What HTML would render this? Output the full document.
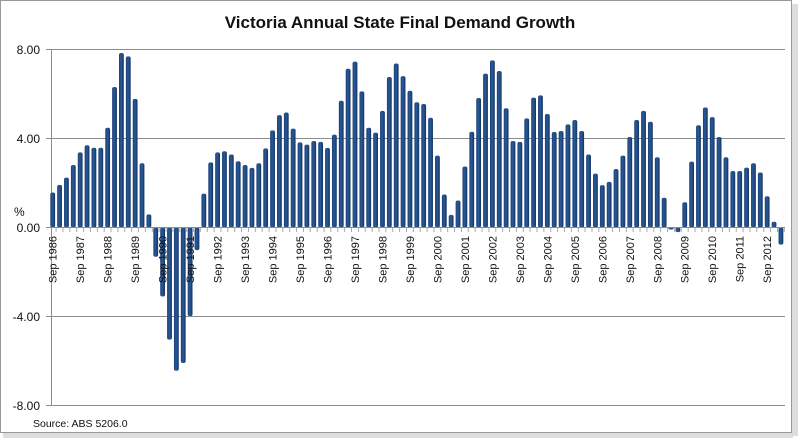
<!DOCTYPE html>
<html><head><meta charset="utf-8"><style>
html,body{margin:0;padding:0;background:#fff;}
svg{display:block;font-family:"Liberation Sans",sans-serif;}
</style></head><body>
<svg id="c" width="800" height="438" viewBox="0 0 800 438" xmlns="http://www.w3.org/2000/svg">
<defs>
<linearGradient id="g" x1="0" x2="1" y1="0" y2="0">
<stop offset="0" stop-color="#1a3f72"/><stop offset="0.45" stop-color="#2a5a9a"/><stop offset="1" stop-color="#123260"/>
</linearGradient>
</defs>
<rect x="0" y="0" width="800" height="438" fill="#fff"/>
<rect x="3" y="433" width="790" height="5" fill="#ddd"/>
<rect x="792" y="4" width="6" height="432" fill="#ddd"/>
<rect x="0.5" y="0.5" width="791" height="432" fill="#fff" stroke="#999"/>
<text x="400" y="28" font-size="17" font-weight="bold" text-anchor="middle" fill="#111">Victoria Annual State Final Demand Growth</text>
<g stroke="#8c8c8c" stroke-width="1">
<line x1="51" x2="785" y1="49.5" y2="49.5"/>
<line x1="51" x2="785" y1="138.5" y2="138.5"/>
<line x1="51" x2="785" y1="316.5" y2="316.5"/>
<line x1="51" x2="785" y1="405.5" y2="405.5"/>
<line x1="51.5" x2="51.5" y1="49" y2="405"/>
<line x1="46" x2="51" y1="49.5" y2="49.5"/><line x1="46" x2="51" y1="138.5" y2="138.5"/><line x1="46" x2="51" y1="227.5" y2="227.5"/><line x1="46" x2="51" y1="316.5" y2="316.5"/><line x1="46" x2="51" y1="405.5" y2="405.5"/>
</g>
<g font-size="12" fill="#111" text-anchor="end">
<text x="40" y="54">8.00</text><text x="40" y="143">4.00</text><text x="40" y="232">0.00</text><text x="40" y="321">-4.00</text><text x="40" y="410">-8.00</text>
</g>
<text x="14" y="216" font-size="12" fill="#111">%</text>
<text x="33" y="427" font-size="10.5" fill="#111">Source: ABS 5206.0</text>
<g id="bars"></g>
<line x1="51" x2="785" y1="227.5" y2="227.5" stroke="#8c8c8c"/>
<g id="ticks" stroke="#aaa"></g>
<g font-size="11" fill="#111" text-anchor="end">
<text transform="translate(56.7,236) rotate(-90)">Sep 1986</text>
<text transform="translate(84.2,236) rotate(-90)">Sep 1987</text>
<text transform="translate(111.7,236) rotate(-90)">Sep 1988</text>
<text transform="translate(139.1,236) rotate(-90)">Sep 1989</text>
<text transform="translate(166.6,236) rotate(-90)">Sep 1990</text>
<text transform="translate(194.1,236) rotate(-90)">Sep 1991</text>
<text transform="translate(221.6,236) rotate(-90)">Sep 1992</text>
<text transform="translate(249.1,236) rotate(-90)">Sep 1993</text>
<text transform="translate(276.5,236) rotate(-90)">Sep 1994</text>
<text transform="translate(304.0,236) rotate(-90)">Sep 1995</text>
<text transform="translate(331.5,236) rotate(-90)">Sep 1996</text>
<text transform="translate(359.0,236) rotate(-90)">Sep 1997</text>
<text transform="translate(386.5,236) rotate(-90)">Sep 1998</text>
<text transform="translate(414.0,236) rotate(-90)">Sep 1999</text>
<text transform="translate(441.4,236) rotate(-90)">Sep 2000</text>
<text transform="translate(468.9,236) rotate(-90)">Sep 2001</text>
<text transform="translate(496.4,236) rotate(-90)">Sep 2002</text>
<text transform="translate(523.9,236) rotate(-90)">Sep 2003</text>
<text transform="translate(551.3,236) rotate(-90)">Sep 2004</text>
<text transform="translate(578.8,236) rotate(-90)">Sep 2005</text>
<text transform="translate(606.3,236) rotate(-90)">Sep 2006</text>
<text transform="translate(633.8,236) rotate(-90)">Sep 2007</text>
<text transform="translate(661.3,236) rotate(-90)">Sep 2008</text>
<text transform="translate(688.7,236) rotate(-90)">Sep 2009</text>
<text transform="translate(716.2,236) rotate(-90)">Sep 2010</text>
<text transform="translate(743.7,236) rotate(-90)">Sep 2011</text>
<text transform="translate(771.2,236) rotate(-90)">Sep 2012</text>
</g>
</svg>
<script>
var v=[1.58,1.92,2.25,2.82,3.39,3.71,3.6,3.6,4.5,6.34,7.87,7.72,5.8,2.9,0.59,-1.32,-3.11,-5.06,-6.46,-6.11,-4.0,-1.02,1.53,2.94,3.39,3.44,3.29,2.99,2.82,2.69,2.9,3.57,4.38,5.07,5.19,4.46,3.84,3.74,3.9,3.86,3.59,4.19,5.72,7.16,7.48,6.14,4.5,4.28,5.26,6.79,7.4,6.83,6.17,5.65,5.57,4.95,3.24,1.49,0.57,1.22,2.75,4.32,5.84,6.94,7.54,7.06,5.38,3.9,3.86,4.92,5.86,5.96,5.12,4.31,4.35,4.65,4.85,4.35,3.29,2.43,1.91,2.06,2.64,3.24,4.08,4.85,5.26,4.77,3.17,1.34,-0.06,-0.21,1.14,2.97,4.61,5.41,4.98,4.08,3.17,2.55,2.55,2.7,2.9,2.48,1.41,0.26,-0.77];
var ns="http://www.w3.org/2000/svg",b=document.getElementById("bars"),t=document.getElementById("ticks");
for(var i=0;i<v.length;i++){var x=52.7+6.87*i,h=Math.abs(v[i])*22.17;h=Math.max(h,2);
var y=v[i]>=0?227.5-h:227.5;var r=document.createElementNS(ns,"rect");
r.setAttribute("x",x-2.4);r.setAttribute("y",y);r.setAttribute("width",4.8);r.setAttribute("height",h);
r.setAttribute("rx",2);r.setAttribute("fill","url(#g)");b.appendChild(r);
var l=document.createElementNS(ns,"line");var tx=x+3.4;l.setAttribute("x1",tx);l.setAttribute("x2",tx);l.setAttribute("y1",228);l.setAttribute("y2",232);t.appendChild(l);}
</script>
</body></html>
